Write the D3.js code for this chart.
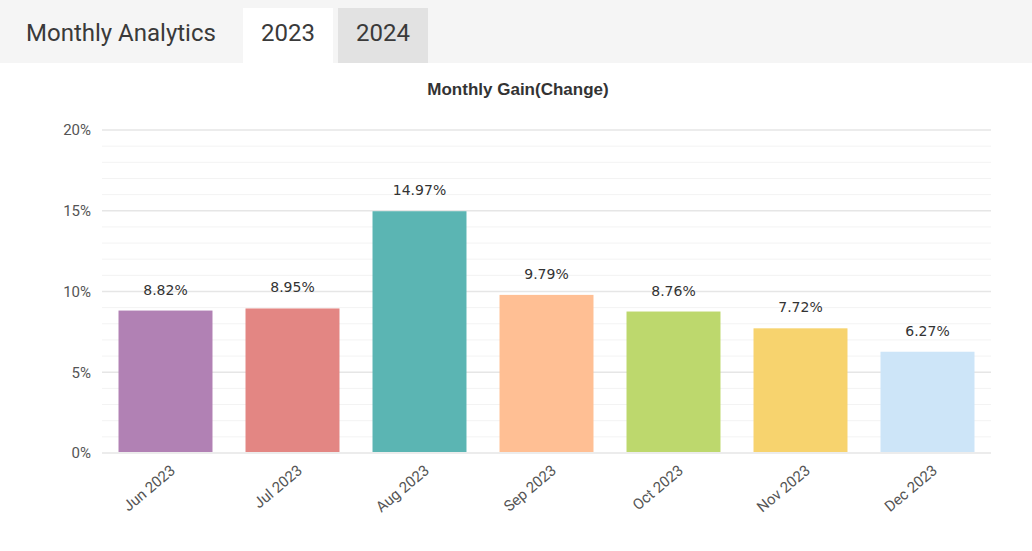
<!DOCTYPE html>
<meta charset="utf-8">
<style>
body { margin:0; background:#fff; font-family: Roboto, "Noto Sans", sans-serif; }
.head { position:absolute; left:0; top:0; width:1032px; height:63px; background:#f5f5f5; }
.head span { position:absolute; font-size:24px; color:#3a3a3a; }
.tab { position:absolute; top:8px; height:55px; width:90px; }
.tick text { font-family: Roboto, sans-serif; font-size:15px; fill:#555; }
</style>
<body>
<div class="head">
  <span style="left:26px;top:19px">Monthly Analytics</span>
  <div class="tab" style="left:243px;background:#fff"></div>
  <div class="tab" style="left:338px;background:#e2e2e2"></div>
  <span style="left:261px;top:19px">2023</span>
  <span style="left:356px;top:19px">2024</span>
</div>
<script src="https://d3js.org/d3.v7.min.js"></script>
<script>
var data = [
  {m:"Jun 2023", v:8.82, c:"#b181b4"},
  {m:"Jul 2023", v:8.95, c:"#e38683"},
  {m:"Aug 2023", v:14.97, c:"#5bb5b3"},
  {m:"Sep 2023", v:9.79, c:"#ffbf94"},
  {m:"Oct 2023", v:8.76, c:"#bdd86d"},
  {m:"Nov 2023", v:7.72, c:"#f7d36e"},
  {m:"Dec 2023", v:6.27, c:"#cde5f8"}
];

var svg = d3.select("body").append("svg")
    .attr("width", 1032).attr("height", 551)
    .style("position","absolute").style("left",0).style("top",0);

// header sits in the div above, so draw below 63px only
var x = d3.scaleBand().domain(data.map(d => d.m)).range([102, 991]).paddingInner(0.26).paddingOuter(0.13);
var y = d3.scaleLinear().domain([0, 20]).range([453, 130]);

svg.append("text").attr("x", 518).attr("y", 95).attr("text-anchor","middle")
   .style("font-family","Arial, 'Liberation Sans', sans-serif").style("font-weight","bold")
   .style("font-size","17px").attr("fill","#333").text("Monthly Gain(Change)");

// minor grid every 1%
svg.append("g").selectAll("line").data(d3.range(0, 21))
  .enter().append("line")
  .attr("x1", 102).attr("x2", 991)
  .attr("y1", d => y(d)).attr("y2", d => y(d))
  .attr("stroke", d => d % 5 == 0 ? "#e6e6e6" : "#f3f3f3")
  .attr("stroke-width", d => d % 5 == 0 ? 1.5 : 1);

var ya = svg.append("g").attr("transform","translate(94,0)")
  .call(d3.axisLeft(y).tickValues([0,5,10,15,20]).tickFormat(d => d + "%").tickSize(0));
ya.select(".domain").remove();

svg.selectAll(".bar").data(data).enter().append("rect")
  .attr("x", d => x(d.m)).attr("width", x.bandwidth())
  .attr("y", d => y(d.v)).attr("height", d => y(0) - y(d.v) - 1)
  .attr("fill", d => d.c);

svg.selectAll(".lbl").data(data).enter().append("text")
  .attr("x", d => x(d.m) + x.bandwidth()/2).attr("y", d => y(d.v) - 16)
  .attr("text-anchor","middle").style("font-family","'DejaVu Sans', sans-serif")
  .style("font-size","14px").attr("fill","#333").text(d => d.v.toFixed(2) + "%");

var xa = svg.append("g").attr("transform","translate(0,462)")
  .call(d3.axisBottom(x).tickSize(0));
xa.select(".domain").remove();
xa.selectAll("text").attr("text-anchor","end")
  .attr("transform","translate(4,2) rotate(-40)").attr("dy","0.5em");
</script>
</body>
